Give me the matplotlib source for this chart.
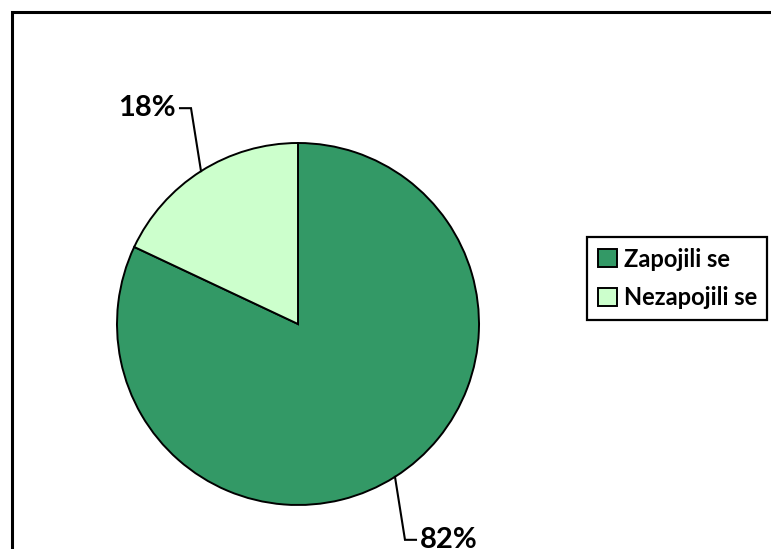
import numpy as np
import matplotlib.pyplot as plt
from matplotlib.patches import Patch

# data
labels = ["Zapojili se", "Nezapojili se"]
values = [82, 18]
colors = ["#339966", "#CCFFCC"]

W, H = 771, 549
CX, CY, R = 298, H - 324, 181

fig = plt.figure(figsize=(W / 100, H / 100), dpi=100)
ax = fig.add_axes([0, 0, 1, 1])

wedges, _ = ax.pie(values, colors=colors, startangle=90, counterclock=False,
                   center=(CX, CY), radius=R,
                   wedgeprops=dict(edgecolor="black", linewidth=1.4))
ax.set_xlim(0, W)
ax.set_ylim(0, H)
ax.set_aspect("equal")
ax.axis("off")

font = dict(family=["Lato", "DejaVu Sans"], fontweight="bold")

# data labels with leader lines
for w, v in zip(wedges, values):
    ang = np.deg2rad((w.theta1 + w.theta2) / 2)
    c, s = np.cos(ang), np.sin(ang)
    p0 = (CX + R * c, CY + R * s)
    side = 1 if c > 0 else -1
    p1 = (p0[0] + side * 10, p0[1] + np.sign(s) * 63)
    p2 = (p1[0] + side * 11, p1[1])
    ax.plot([p0[0], p1[0], p2[0]], [p0[1], p1[1], p2[1]], color="black", lw=1.5,
            solid_joinstyle="miter")
    ax.text(p2[0] + side * 4, p2[1], f"{v}%", fontsize=21,
            ha="left" if side > 0 else "right", va="center", **font)

# outer frame (cut off at right and bottom)
ax.plot([11.5, 11.5, W], [0, H - 11.5, H - 11.5], color="black", lw=2.2,
        solid_joinstyle="miter")

handles = [Patch(facecolor=c, edgecolor="black", linewidth=1.4) for c in colors]
leg = ax.legend(handles, labels, loc="upper left",
                bbox_to_anchor=(587 / W, 1 - 237 / H), borderaxespad=0,
                fancybox=False, edgecolor="black", framealpha=1,
                handlelength=0.8, handleheight=0.8, handletextpad=0.3,
                labelspacing=0.65, borderpad=0.45,
                prop=dict(family=["Lato", "DejaVu Sans"], weight="bold", size=17))
leg.get_frame().set_linewidth(1.6)

plt.savefig("out.png", dpi=100)
